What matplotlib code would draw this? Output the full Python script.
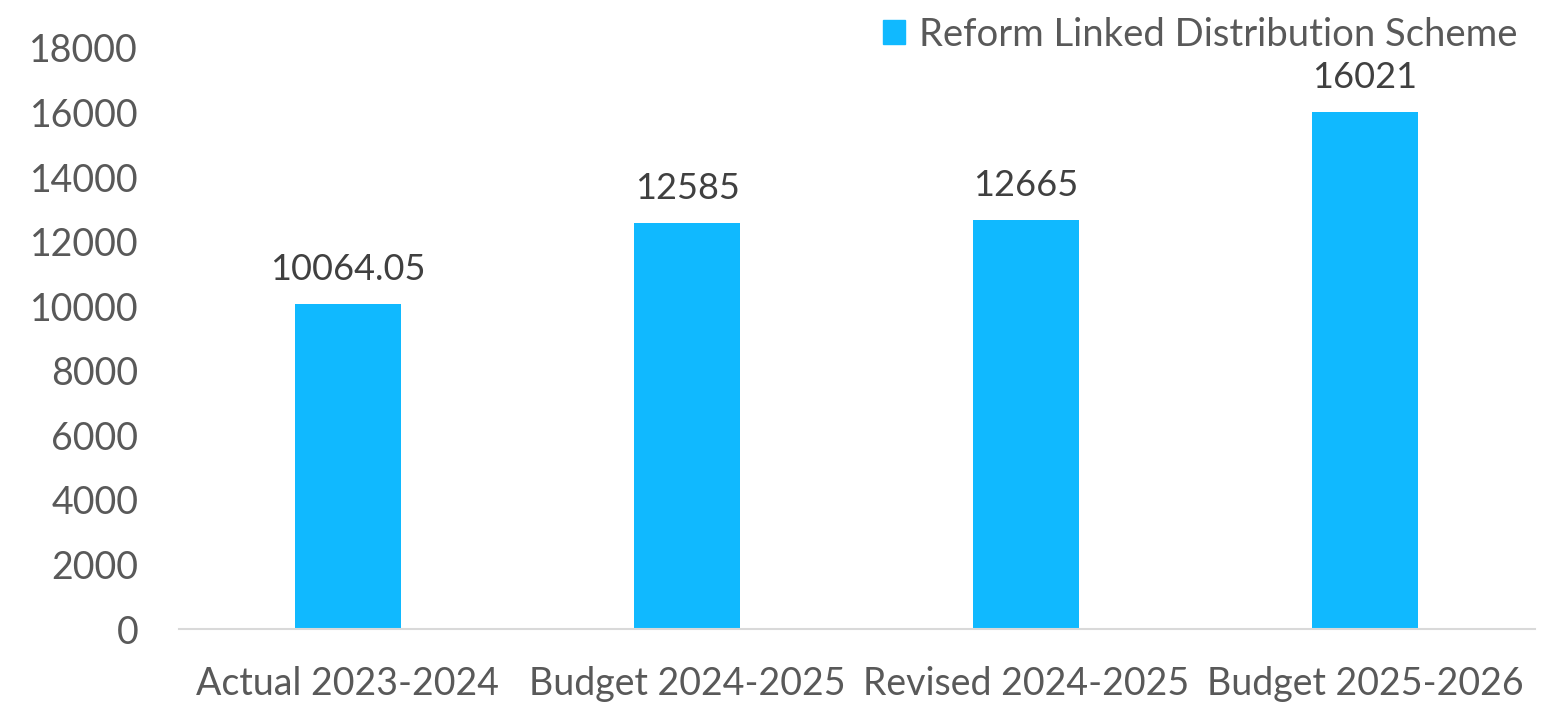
import matplotlib.pyplot as plt
from matplotlib.patches import Patch

plt.rcParams['font.family'] = ['Lato', 'DejaVu Sans']

categories = ["Actual 2023-2024", "Budget 2024-2025", "Revised 2024-2025", "Budget 2025-2026"]
values = [10064.05, 12585, 12665, 16021]
value_labels = ["10064.05", "12585", "12665", "16021"]
series_name = "Reform Linked Distribution Scheme"

bar_color = "#10B9FF"
text_grey = "#595959"

fig = plt.figure(figsize=(15.6, 7.03), dpi=100)
ax = fig.add_axes([178.5 / 1560, 1 - 629 / 703, 1356 / 1560, (629 - 48) / 703])

x = range(len(categories))
bars = ax.bar(x, values, width=0.31, color=bar_color)

for b, lab in zip(bars, value_labels):
    ax.annotate(lab, (b.get_x() + b.get_width() / 2, b.get_height()),
                xytext=(0, 13), textcoords="offset points",
                ha="center", va="bottom", fontsize=26, color="#404040")

ax.set_xlim(-0.5, len(categories) - 0.5)
ax.set_ylim(0, 18000)
ax.set_yticks(range(0, 18001, 2000))
ax.set_xticks(list(x))
ax.set_xticklabels(categories)
ax.tick_params(axis="both", length=0, labelsize=27, colors=text_grey)
ax.tick_params(axis="x", pad=26.5)
ax.tick_params(axis="y", pad=29)

for s in ["top", "right", "left"]:
    ax.spines[s].set_visible(False)
ax.spines["bottom"].set_color("#D9D9D9")
ax.spines["bottom"].set_linewidth(1.5)

handle = Patch(color=bar_color, label=series_name)
fig.legend(handles=[handle], loc="upper right", bbox_to_anchor=(1525 / 1560, 1 - 9 / 703),
           frameon=False, fontsize=27.5, labelcolor=text_grey,
           handlelength=0.6, handleheight=0.6, handletextpad=0.35,
           borderaxespad=0.0, borderpad=0.2)

fig.savefig("out.png", dpi=100)
